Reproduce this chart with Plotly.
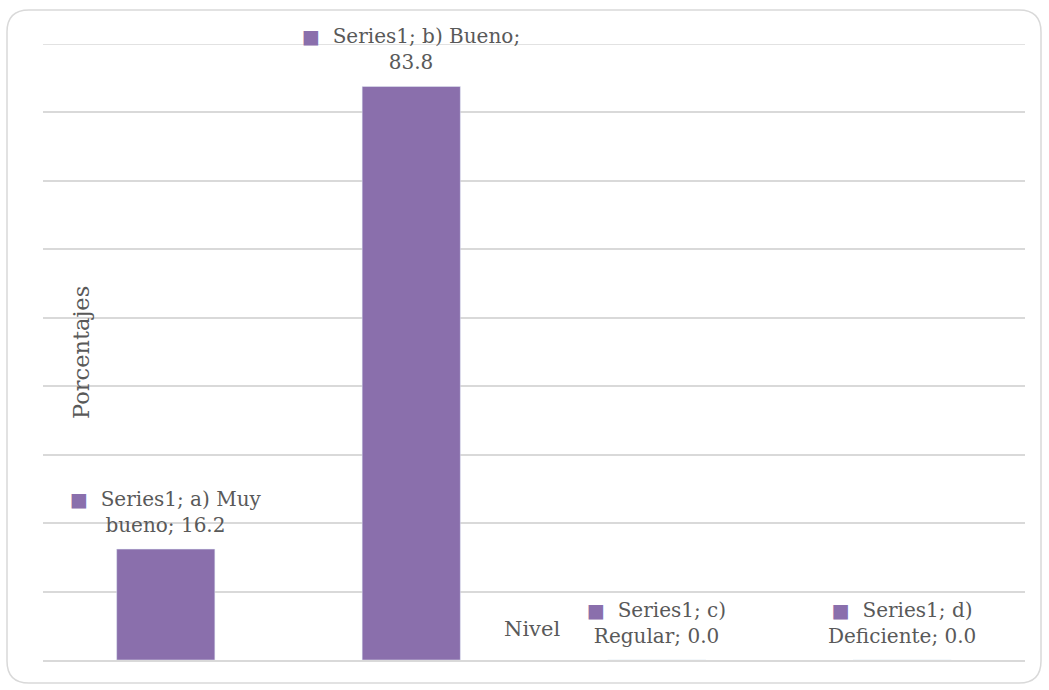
import plotly.graph_objects as go

categories = ["a) Muy bueno", "b) Bueno", "c) Regular", "d) Deficiente"]
values = [16.2, 83.8, 0.0, 0.0]
series_name = "Series1"
wrap_after = ["Muy", "Bueno;", "c)", "d)"]

BAR = "#8a6fac"
GRID = "#d9d9d9"
TXT = "#595959"
FONT = "DejaVu Serif"

W, H = 1049, 690
L, R, T, B = 43, 24, 44, 30
PW, PH = W - L - R, H - T - B

fig = go.Figure(go.Bar(x=categories, y=values, marker_color=BAR, width=0.4,
                       showlegend=False, hoverinfo="skip"))

for cat, val, w in zip(categories, values, wrap_after):
    txt = f"{series_name}; {cat}; {val:.1f}"
    txt = txt.replace(w + " ", w + "<br>", 1)
    fig.add_annotation(x=cat, y=val, xref="x", yref="y",
                       text=f"<span style='color:{BAR};font-size:19px'>■</span>  " + txt,
                       showarrow=False, yanchor="bottom", yshift=10,
                       font=dict(family=FONT, size=20, color=TXT))

def px(x, y):
    return (x - L) / PW, (H - B - y) / PH

def p(x, y):
    a, b = px(x, y)
    return f"{a:.5f},{b:.5f}"

x0, x1, y0, y1, r = 7, 1041, 10, 683, 22
path = (f"M {p(x0 + r, y0)} L {p(x1 - r, y0)} Q {p(x1, y0)} {p(x1, y0 + r)} "
        f"L {p(x1, y1 - r)} Q {p(x1, y1)} {p(x1 - r, y1)} "
        f"L {p(x0 + r, y1)} Q {p(x0, y1)} {p(x0, y1 - r)} "
        f"L {p(x0, y0 + r)} Q {p(x0, y0)} {p(x0 + r, y0)} Z")
fig.add_shape(type="path", path=path, xref="paper", yref="paper",
              line=dict(color=GRID, width=1.5), layer="below")
fig.add_shape(type="line", xref="paper", yref="y", x0=0, x1=1, y0=90, y1=90,
              line=dict(color=GRID, width=1.5), layer="below")

nx, ny = px(532, 643)
fig.add_annotation(x=nx, y=ny, xref="paper", yref="paper", text="Nivel",
                   showarrow=False, font=dict(family=FONT, size=21, color=TXT))
ax, ay = px(66, 353)
fig.add_annotation(x=ax, y=ay, xref="paper", yref="paper", text="Porcentajes",
                   textangle=-90, showarrow=False,
                   font=dict(family=FONT, size=22.5, color=TXT))

fig.update_layout(
    width=W, height=H, margin=dict(l=L, r=R, t=T, b=B),
    plot_bgcolor="white", paper_bgcolor="white",
    xaxis=dict(showticklabels=False, ticks="", showgrid=False, showline=True,
               linecolor=GRID, linewidth=1.5, zeroline=False),
    yaxis=dict(range=[0, 90], tick0=0, dtick=10, showticklabels=False, ticks="",
               showgrid=True, gridcolor=GRID, gridwidth=1.5, zeroline=False,
               showline=False),
    bargap=0.6,
)

fig.write_html("out.html", config={"displayModeBar": False},
               post_script="document.body.style.margin='0';")
